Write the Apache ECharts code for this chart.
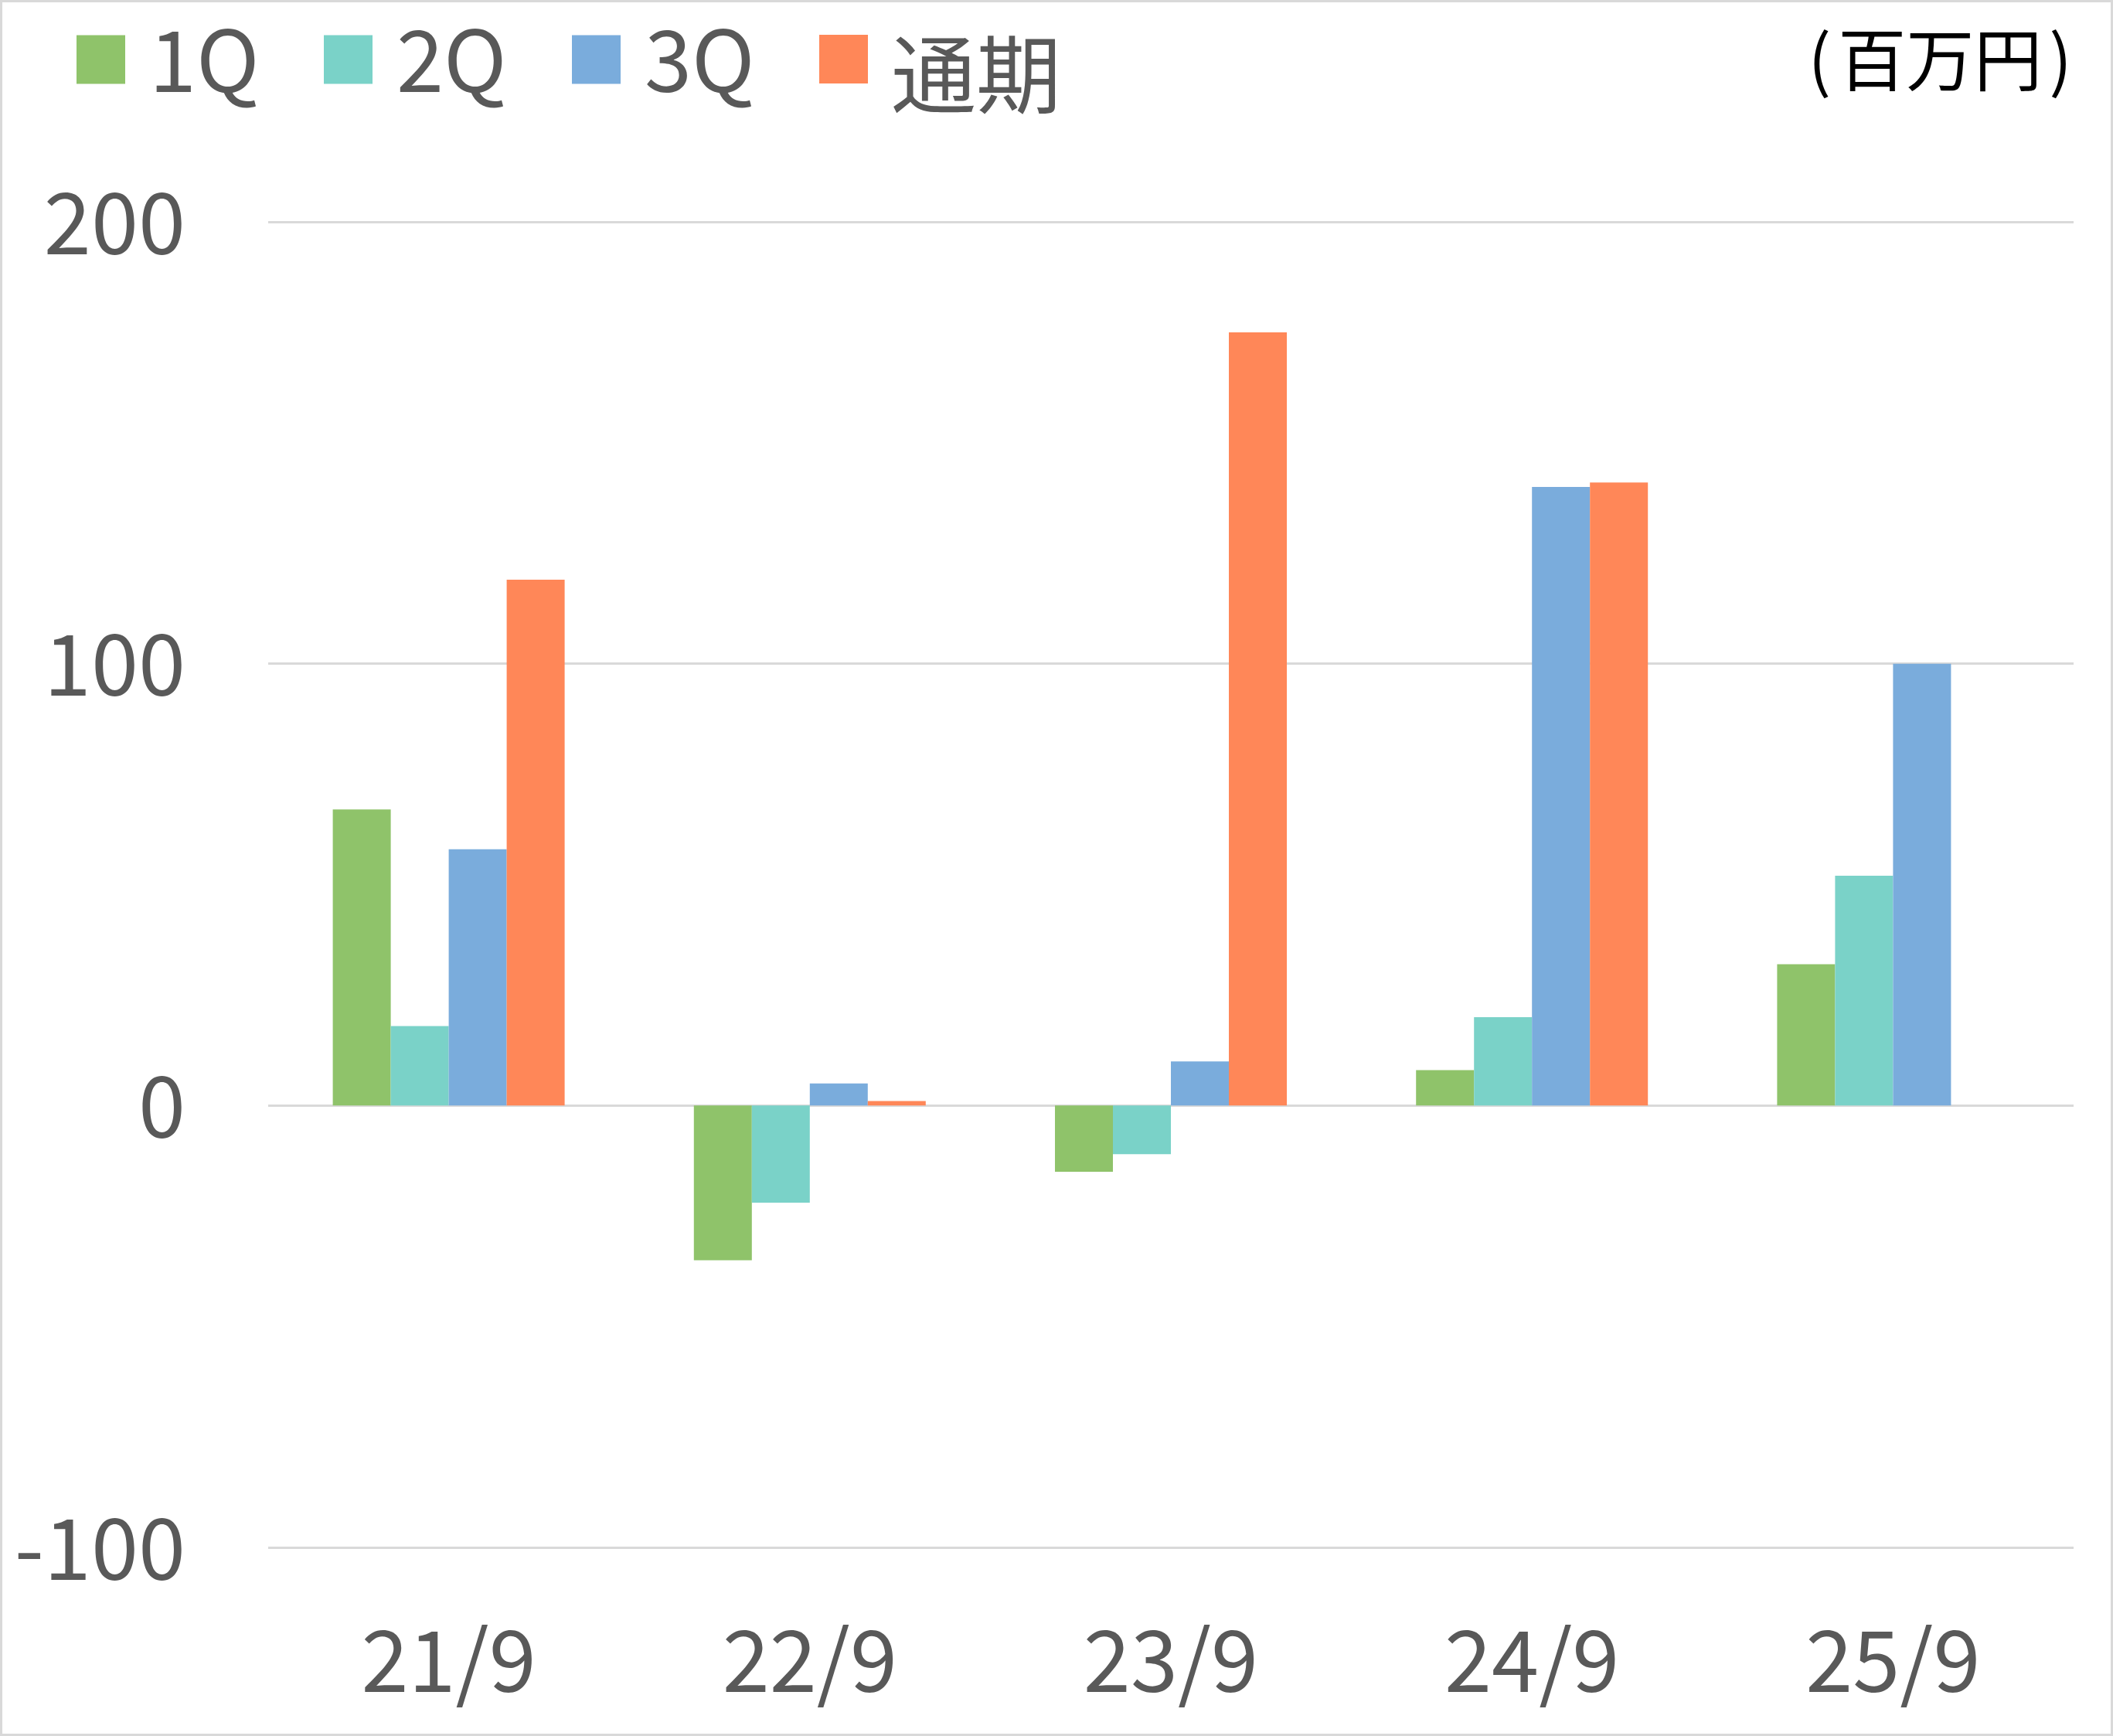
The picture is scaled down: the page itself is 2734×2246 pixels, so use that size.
<!DOCTYPE html>
<html>
<head>
    <meta charset="utf-8">
    <title></title>
    <style>
        html, body{
            margin: 0;
            padding: 0;
            background: #fff;
        }
        #main{
            width: 2734px;
            height: 2246px;
        }
    </style>
</head>
<body>
<div id="main"></div>
<script type="text/javascript" src="https://cdn.jsdelivr.net/npm/echarts@6/dist/echarts.min.js"></script>
<script type="text/javascript">
    // 期ごとの数値（百万円）
    var categories = ['21/9', '22/9', '23/9', '24/9', '25/9'];
    var seriesNames = ['1Q', '2Q', '3Q', '通期'];
    var q1Data = [67, -35, -15, 8, 32];
    var q2Data = [18, -22, -11, 20, 52];
    var q3Data = [58, 5, 10, 140, 100];
    var fullData = [119, 1, 175, 141, null];
    var yTicks = [-100, 0, 100, 200];
    var colors = ['#8fc36a', '#7ad2c8', '#7aacdc', '#ff8758'];
</script>
<script type="text/javascript">
    var font = 'Noto Sans CJK JP';
    var myChart = echarts.init(document.getElementById('main'));

    var legendLeft = [99, 419, 740, 1060];
    var legends = seriesNames.map(function (name, i) {
        // 通期の文字は元の図では少し下にあるので、下の graphic で描く
        var isCjk = (i === 3);
        return {
            data: [name],
            left: legendLeft[i],
            top: isCjk ? 45 : 22,
            padding: 0,
            icon: 'rect',
            itemWidth: 63,
            itemHeight: 63,
            selectedMode: false,
            formatter: isCjk ? function () { return ''; } : '{name}',
            textStyle: {
                fontFamily: font,
                fontSize: 110,
                color: '#595959',
                padding: [0, 0, 0, 26]
            }
        };
    });

    var allData = [q1Data, q2Data, q3Data, fullData];
    var series = seriesNames.map(function (name, i) {
        return {
            name: name,
            type: 'bar',
            barWidth: 75,
            barGap: '0%',
            itemStyle: { color: colors[i] },
            data: allData[i]
        };
    });

    var option = {
        animation: false,
        backgroundColor: '#fff',
        legend: legends,
        grid: {
            left: 347,
            right: 51,
            top: 287,
            bottom: 244,
            containLabel: false
        },
        xAxis: {
            type: 'category',
            data: categories,
            axisLine: { show: false, onZero: false },
            axisTick: { show: false },
            axisLabel: {
                margin: 90,
                fontFamily: font,
                fontSize: 110,
                color: '#595959'
            }
        },
        yAxis: {
            type: 'value',
            min: yTicks[0],
            max: yTicks[yTicks.length - 1],
            interval: 100,
            axisLine: { show: false },
            axisTick: { show: false },
            splitLine: { lineStyle: { color: '#d9d9d9', width: 3 } },
            axisLabel: {
                margin: 107,
                fontFamily: font,
                fontSize: 110,
                color: '#595959'
            }
        },
        graphic: [{
            type: 'text',
            x: 1153,
            y: 96,
            style: {
                text: seriesNames[3],
                fontFamily: font,
                fontSize: 110,
                fill: '#595959',
                verticalAlign: 'middle'
            }
        }, {
            type: 'text',
            right: 53,
            top: 33,
            style: {
                text: '{p|(}{t|百万円}{p|)}',
                rich: {
                    p: { fontFamily: font, fontSize: 88, fill: '#000', padding: [0, 9, 0, 9] },
                    t: { fontFamily: font, fontSize: 88, fill: '#000' }
                },
                fontFamily: font,
                fontSize: 88,
                fill: '#000'
            }
        }, {
            type: 'rect',
            shape: { x: 1.5, y: 1.5, width: 2731, height: 2243 },
            style: { fill: 'none', stroke: '#d9d9d9', lineWidth: 3 },
            silent: true
        }],
        series: series
    };
    myChart.setOption(option);
</script>
</body>
</html>
